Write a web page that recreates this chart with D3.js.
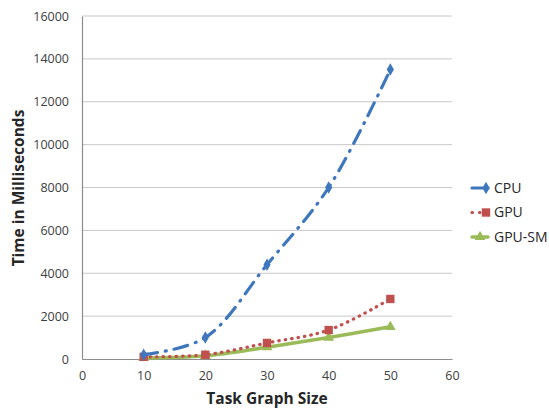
<!DOCTYPE html>
<html><head><meta charset="utf-8">
<script src="https://cdn.jsdelivr.net/npm/d3@7"></script>
<style>body{margin:0;background:#fff}svg{display:block}</style>
</head><body><svg id="c" width="549" height="410"></svg>
<script>
const sizes = [10, 20, 30, 40, 50];
const cpu = [200, 1000, 4400, 8000, 13500];
const gpu = [100, 200, 750, 1350, 2800];
const gpuSm = [50, 150, 550, 1000, 1500];
const seriesNames = ["CPU", "GPU", "GPU-SM"];
const xTicks = [0, 10, 20, 30, 40, 50, 60];
const yTicks = [0, 2000, 4000, 6000, 8000, 10000, 12000, 14000, 16000];

const svg = d3.select("#c");
const L = 82, R = 452, T = 16, B = 359;
const x = d3.scaleLinear().domain([0, 60]).range([L, R]);
const y = d3.scaleLinear().domain([0, 16000]).range([B, T]);
const font = "'Open Sans', 'Liberation Sans', Arial, sans-serif";

// gridlines
svg.append("g").selectAll("line").data(yTicks.slice(1)).join("line")
  .attr("x1", L).attr("x2", R).attr("y1", d => y(d)).attr("y2", d => y(d))
  .attr("stroke", "#c8c8c8").attr("stroke-width", 1);

// axes
const yAxis = svg.append("g").attr("transform", `translate(${L},0)`)
  .call(d3.axisLeft(y).tickValues(yTicks).tickSize(0).tickPadding(13).tickFormat(d3.format("d")));
const xAxis = svg.append("g").attr("transform", `translate(0,${B})`)
  .call(d3.axisBottom(x).tickValues(xTicks).tickSize(0).tickPadding(12));
[yAxis, xAxis].forEach(a => {
  a.select(".domain").attr("stroke", "#8c8c8c").attr("stroke-width", 1.2);
  a.selectAll("text").attr("font-family", font).attr("font-size", 12.5).attr("fill", "#404040");
});

const series = [
  {name: seriesNames[0], vals: cpu, color: "#3f77bd", dash: "14,8,1,8", width: 3.2, sym: d3.symbolDiamond, size: 45},
  {name: seriesNames[1], vals: gpu, color: "#c0504d", dash: "0.5,6", width: 3.2, sym: d3.symbolSquare, size: 70},
  {name: seriesNames[2], vals: gpuSm, color: "#9bbb59", dash: null, width: 3.5, sym: d3.symbolTriangle, size: 50}
];

const line = d3.line().x((d, i) => x(sizes[i])).y(d => y(d)).curve(d3.curveCatmullRom.alpha(0.5));

series.slice().reverse().forEach(s => {
  svg.append("path").attr("d", line(s.vals)).attr("fill", "none")
    .attr("stroke", s.color).attr("stroke-width", s.width)
    .attr("stroke-linecap", "round")
    .attr("stroke-dasharray", s.dash);
  svg.append("g").selectAll("path").data(s.vals).join("path")
    .attr("transform", (d, i) => `translate(${x(sizes[i])},${y(d)})`)
    .attr("d", d3.symbol().type(s.sym).size(s.size)).attr("fill", s.color);
});

// legend
const lg = svg.append("g");
series.forEach((s, i) => {
  const ly = 188 + i * 24.5;
  lg.append("line").attr("x1", 472).attr("x2", 488).attr("y1", ly).attr("y2", ly)
    .attr("stroke", s.color).attr("stroke-width", s.width).attr("stroke-dasharray", i === 1 ? "0.5,7" : null)
    .attr("stroke-linecap", "round");
  lg.append("path").attr("transform", `translate(${i === 2 ? 480 : 486},${ly})`)
    .attr("d", d3.symbol().type(s.sym).size(s.size)).attr("fill", s.color);
  lg.append("text").attr("x", 494).attr("y", ly).attr("dy", "0.35em")
    .attr("font-family", font).attr("font-size", 14).attr("fill", "#262626").text(s.name);
});

// titles
svg.append("text").attr("x", 267).attr("y", 404).attr("text-anchor", "middle")
  .attr("font-family", font).attr("font-weight", "bold").attr("font-size", 15.5).attr("fill", "#262626")
  .text("Task Graph Size");
svg.append("text").attr("transform", "translate(24,188) rotate(-90)").attr("text-anchor", "middle")
  .attr("font-family", font).attr("font-weight", "bold").attr("font-size", 15.5).attr("fill", "#262626")
  .text("Time in Milliseconds");
</script></body></html>
